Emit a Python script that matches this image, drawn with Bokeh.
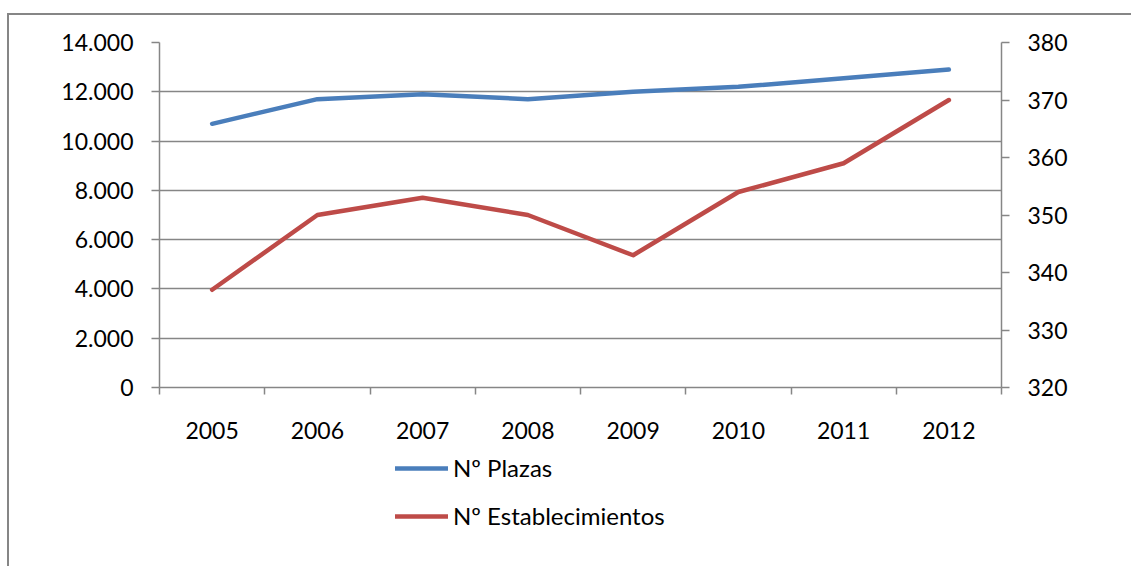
from bokeh.plotting import figure
from bokeh.layouts import column
from bokeh.models import LinearAxis, Range1d, FixedTicker, Legend, LegendItem
from bokeh.embed import file_html
from bokeh.resources import INLINE

years = ["2005", "2006", "2007", "2008", "2009", "2010", "2011", "2012"]
plazas = [10700, 11700, 11900, 11700, 12000, 12200, 12550, 12900]
establecimientos = [337, 350, 353, 350, 343, 354, 359, 370]
left_ticks = [0, 2000, 4000, 6000, 8000, 10000, 12000, 14000]
right_ticks = [320, 330, 340, 350, 360, 370, 380]
series_names = ["Nº Plazas", "Nº Establecimientos"]

FONT = "Lato"
FS = "23px"
LFS = "24px"
GREY = "#868686"
BLUE = "#4A7EBB"
RED = "#BE4B48"

n = len(years)
xc = [i + 0.5 for i in range(n)]
bounds = [float(i) for i in range(n + 1)]

p = figure(width=1124, height=430, output_backend="svg", toolbar_location=None,
           x_range=Range1d(0, n), y_range=Range1d(left_ticks[0], left_ticks[-1]),
           min_border_left=150, min_border_right=132, min_border_top=27,
           min_border_bottom=58)
p.margin = (13, 0, 0, 7)
p.styles = {"border-left": f"2px solid {GREY}", "border-top": f"2px solid {GREY}"}
p.outline_line_color = None
p.background_fill_color = "white"
p.border_fill_color = "white"

p.extra_y_ranges = {"est": Range1d(right_ticks[0], right_ticks[-1])}

# x axis
xa = p.xaxis[0]
xa.ticker = FixedTicker(ticks=xc, minor_ticks=bounds)
xa.major_label_overrides = {x: y for x, y in zip(xc, years)}
xa.major_tick_out = 0
xa.major_tick_in = 0
xa.minor_tick_out = 7
xa.minor_tick_in = 0
xa.minor_tick_line_color = GREY
xa.axis_line_color = GREY
xa.axis_line_width = 1.5
xa.minor_tick_line_width = 1.5
xa.major_label_text_font = FONT
xa.major_label_text_font_size = FS
xa.major_label_text_color = "black"
xa.major_label_standoff = 27

# left axis
ya = p.yaxis[0]
ya.ticker = FixedTicker(ticks=left_ticks)
ya.major_label_overrides = {t: f"{t:,}".replace(",", ".") for t in left_ticks}
ya.major_tick_out = 8
ya.major_tick_in = 0
ya.minor_tick_line_color = None
ya.major_tick_line_color = GREY
ya.major_tick_line_width = 1.5
ya.axis_line_color = GREY
ya.axis_line_width = 1.5
ya.major_label_text_font = FONT
ya.major_label_text_font_size = FS
ya.major_label_text_color = "black"
ya.major_label_standoff = 18

# right axis
ra = LinearAxis(y_range_name="est", ticker=FixedTicker(ticks=right_ticks))
ra.major_tick_out = 8
ra.major_tick_in = 0
ra.minor_tick_line_color = None
ra.major_tick_line_color = GREY
ra.major_tick_line_width = 1.5
ra.axis_line_color = GREY
ra.axis_line_width = 1.5
ra.major_label_text_font = FONT
ra.major_label_text_font_size = FS
ra.major_label_text_color = "black"
ra.major_label_standoff = 18
p.add_layout(ra, "right")

p.xgrid.grid_line_color = None
p.ygrid.ticker = FixedTicker(ticks=left_ticks)
p.ygrid.grid_line_color = GREY
p.ygrid.grid_line_width = 1.5

p.line(xc, plazas, line_color=BLUE, line_width=4.5, line_cap="round", line_join="round")
p.line(xc, establecimientos, line_color=RED, line_width=4.5, line_cap="round",
       line_join="round", y_range_name="est")

# legend panel below the chart (its series lie outside this panel's view)
p2 = figure(width=1124, height=123, output_backend="svg", toolbar_location=None,
            x_range=Range1d(0, 1), y_range=Range1d(0, 1), min_border=0,
            x_axis_type=None, y_axis_type=None)
p2.margin = (0, 0, 0, 7)
p2.styles = {"border-left": f"2px solid {GREY}"}
p2.outline_line_color = None
p2.grid.visible = False
p2.background_fill_color = "white"
p2.border_fill_color = "white"
lr1 = p2.line(xc, plazas, line_color=BLUE, line_width=4.5, line_cap="round")
lr2 = p2.line(xc, establecimientos, line_color=RED, line_width=4.5, line_cap="round")

legend = Legend(items=[LegendItem(label=series_names[0], renderers=[lr1]),
                       LegendItem(label=series_names[1], renderers=[lr2])],
                location=(236, 36), orientation="vertical",
                glyph_width=53, glyph_height=20, label_height=20, label_standoff=5,
                spacing=19, padding=0, margin=0, border_line_color=None,
                background_fill_alpha=0, label_text_font=FONT,
                label_text_font_size=LFS, label_text_color="black")
p2.add_layout(legend)

layout = column(p, p2, spacing=0)
open("out.html", "w").write(file_html(layout, INLINE))
